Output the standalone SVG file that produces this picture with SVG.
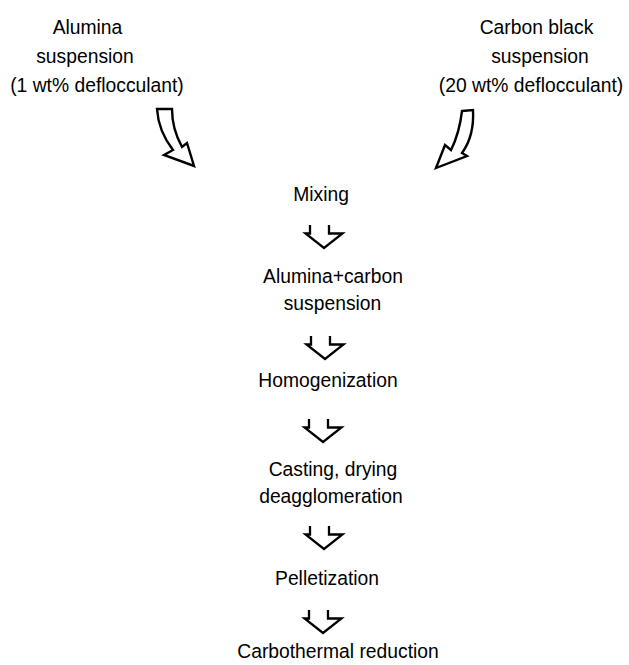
<svg xmlns="http://www.w3.org/2000/svg" xmlns:xlink="http://www.w3.org/1999/xlink" width="629" height="665" viewBox="0 0 629 665">
<style>
text{font-family:"Liberation Sans",Arial,Helvetica,sans-serif;font-size:19.3px;fill:#000;text-anchor:middle}
.arr{fill:none;stroke:#000;stroke-width:2.3;stroke-linejoin:miter}
.big{fill:#fff;stroke:#000;stroke-width:2.4;stroke-linejoin:miter}
</style>
<defs>
<path id="sa" class="arr" d="M-14,0 V8.5 H-18.5 L0,23 L18.5,8.5 H5 V0"/>
</defs>
<rect width="629" height="665" fill="#fff"/>
<g id="n-alumina"><text x="87.5" y="34">Alumina</text><text x="85" y="63">suspension</text><text x="97" y="92">(1 wt% deflocculant)</text></g>
<g id="n-carbon"><text x="536.5" y="34">Carbon black</text><text x="540" y="63">suspension</text><text x="531" y="92">(20 wt% deflocculant)</text></g>
<g id="n-mixing"><text x="321" y="201">Mixing</text></g>
<g id="n-suspension"><text x="333" y="283">Alumina+carbon</text><text x="332.5" y="310">suspension</text></g>
<g id="n-homog"><text x="328" y="387">Homogenization</text></g>
<g id="n-casting"><text x="333" y="476">Casting, drying</text><text x="331" y="503">deagglomeration</text></g>
<g id="n-pellet"><text x="327" y="585">Pelletization</text></g>
<g id="n-carbo"><text x="338" y="658">Carbothermal reduction</text></g>
<g id="connectors">
<path class="big" d="M157,109 L172,109 C172,124 176,136 182,147 L187,143 L194,166 L164,155 L173,150 C163,137 158,125 157,109 Z"/>
<path class="big" d="M462,111 L473,110 C474,128 470,142 462,153 L467,156 L436,168 L445,145 L451,150 C456,140 460,128 462,111 Z"/>
<use xlink:href="#sa" x="324" y="225"/>
<use xlink:href="#sa" x="325" y="336"/>
<use xlink:href="#sa" x="323" y="419"/>
<use xlink:href="#sa" x="324" y="526"/>
<use xlink:href="#sa" x="323" y="610"/>
</g>
</svg>
